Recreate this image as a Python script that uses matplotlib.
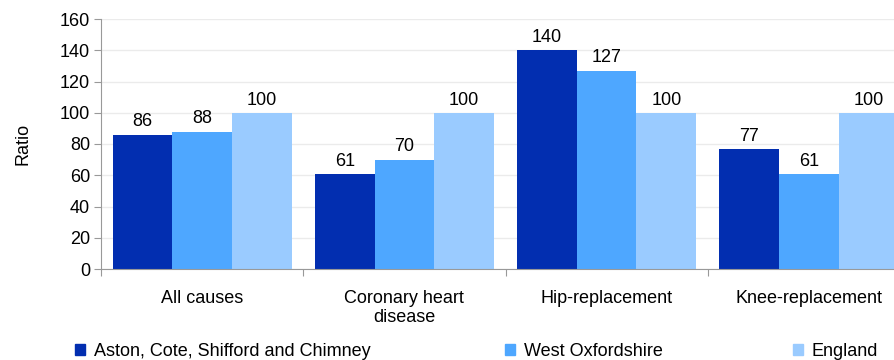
import numpy as np
import matplotlib
matplotlib.use("Agg")
import matplotlib.pyplot as plt
from matplotlib.patches import Patch

categories = ["All causes", "Coronary heart\ndisease", "Hip-replacement", "Knee-replacement"]
series_names = ["Aston, Cote, Shifford and Chimney", "West Oxfordshire", "England"]
aston = [86, 61, 140, 77]
west_ox = [88, 70, 127, 61]
england = [100, 100, 100, 100]
yticks = [0, 20, 40, 60, 80, 100, 120, 140, 160]

colors = ["#022EB0", "#4EA7FF", "#9ACBFF"]

plt.rcParams["font.family"] = ["Liberation Sans", "DejaVu Sans"]
fs = 13
plt.rcParams["font.size"] = fs

W, H = 894, 360
fig = plt.figure(figsize=(W / 100, H / 100), dpi=100)
# axes runs past the right edge of the figure, as in the reference
ax = fig.add_axes([101 / W, 91 / H, (910 - 101) / W, 250 / H])

x = np.arange(len(categories))
bw = 0.295
for i, (vals, name) in enumerate(zip([aston, west_ox, england], series_names)):
    bars = ax.bar(x + (i - 1) * bw, vals, width=bw, color=colors[i], label=name, zorder=2)
    ax.bar_label(bars, padding=3, fontsize=fs)

ax.set_xlim(-0.5, len(categories) - 0.5)
ax.set_ylim(0, 160)
ax.set_yticks(yticks)
ax.yaxis.grid(True, color="#EBEBEB", linewidth=1, zorder=0)
ax.set_axisbelow(True)

ax.set_xticks(np.arange(len(categories) + 1) - 0.5)
ax.set_xticklabels([])
ax.set_xticks(x, minor=True)
ax.set_xticklabels(categories, minor=True, linespacing=1.2)
ax.tick_params(axis="x", which="minor", length=0, pad=15)
ax.tick_params(axis="x", which="major", length=5, color="#999999")
ax.tick_params(axis="y", length=5, color="#999999", pad=3)

for s in ["top", "right"]:
    ax.spines[s].set_visible(False)
for s in ["left", "bottom"]:
    ax.spines[s].set_color("#999999")

ax.set_ylabel("Ratio", labelpad=20)

leg_x = [75, 505, 793]
for xi, c, name in zip(leg_x, colors, series_names):
    fig.legend(handles=[Patch(color=c, label=name)], loc="center left",
               bbox_to_anchor=(xi / W, 1 - 351 / H), frameon=False,
               handlelength=0.55, handleheight=0.55, handletextpad=0.5,
               borderpad=0, borderaxespad=0, fontsize=fs)

fig.savefig("out.png", dpi=100)
